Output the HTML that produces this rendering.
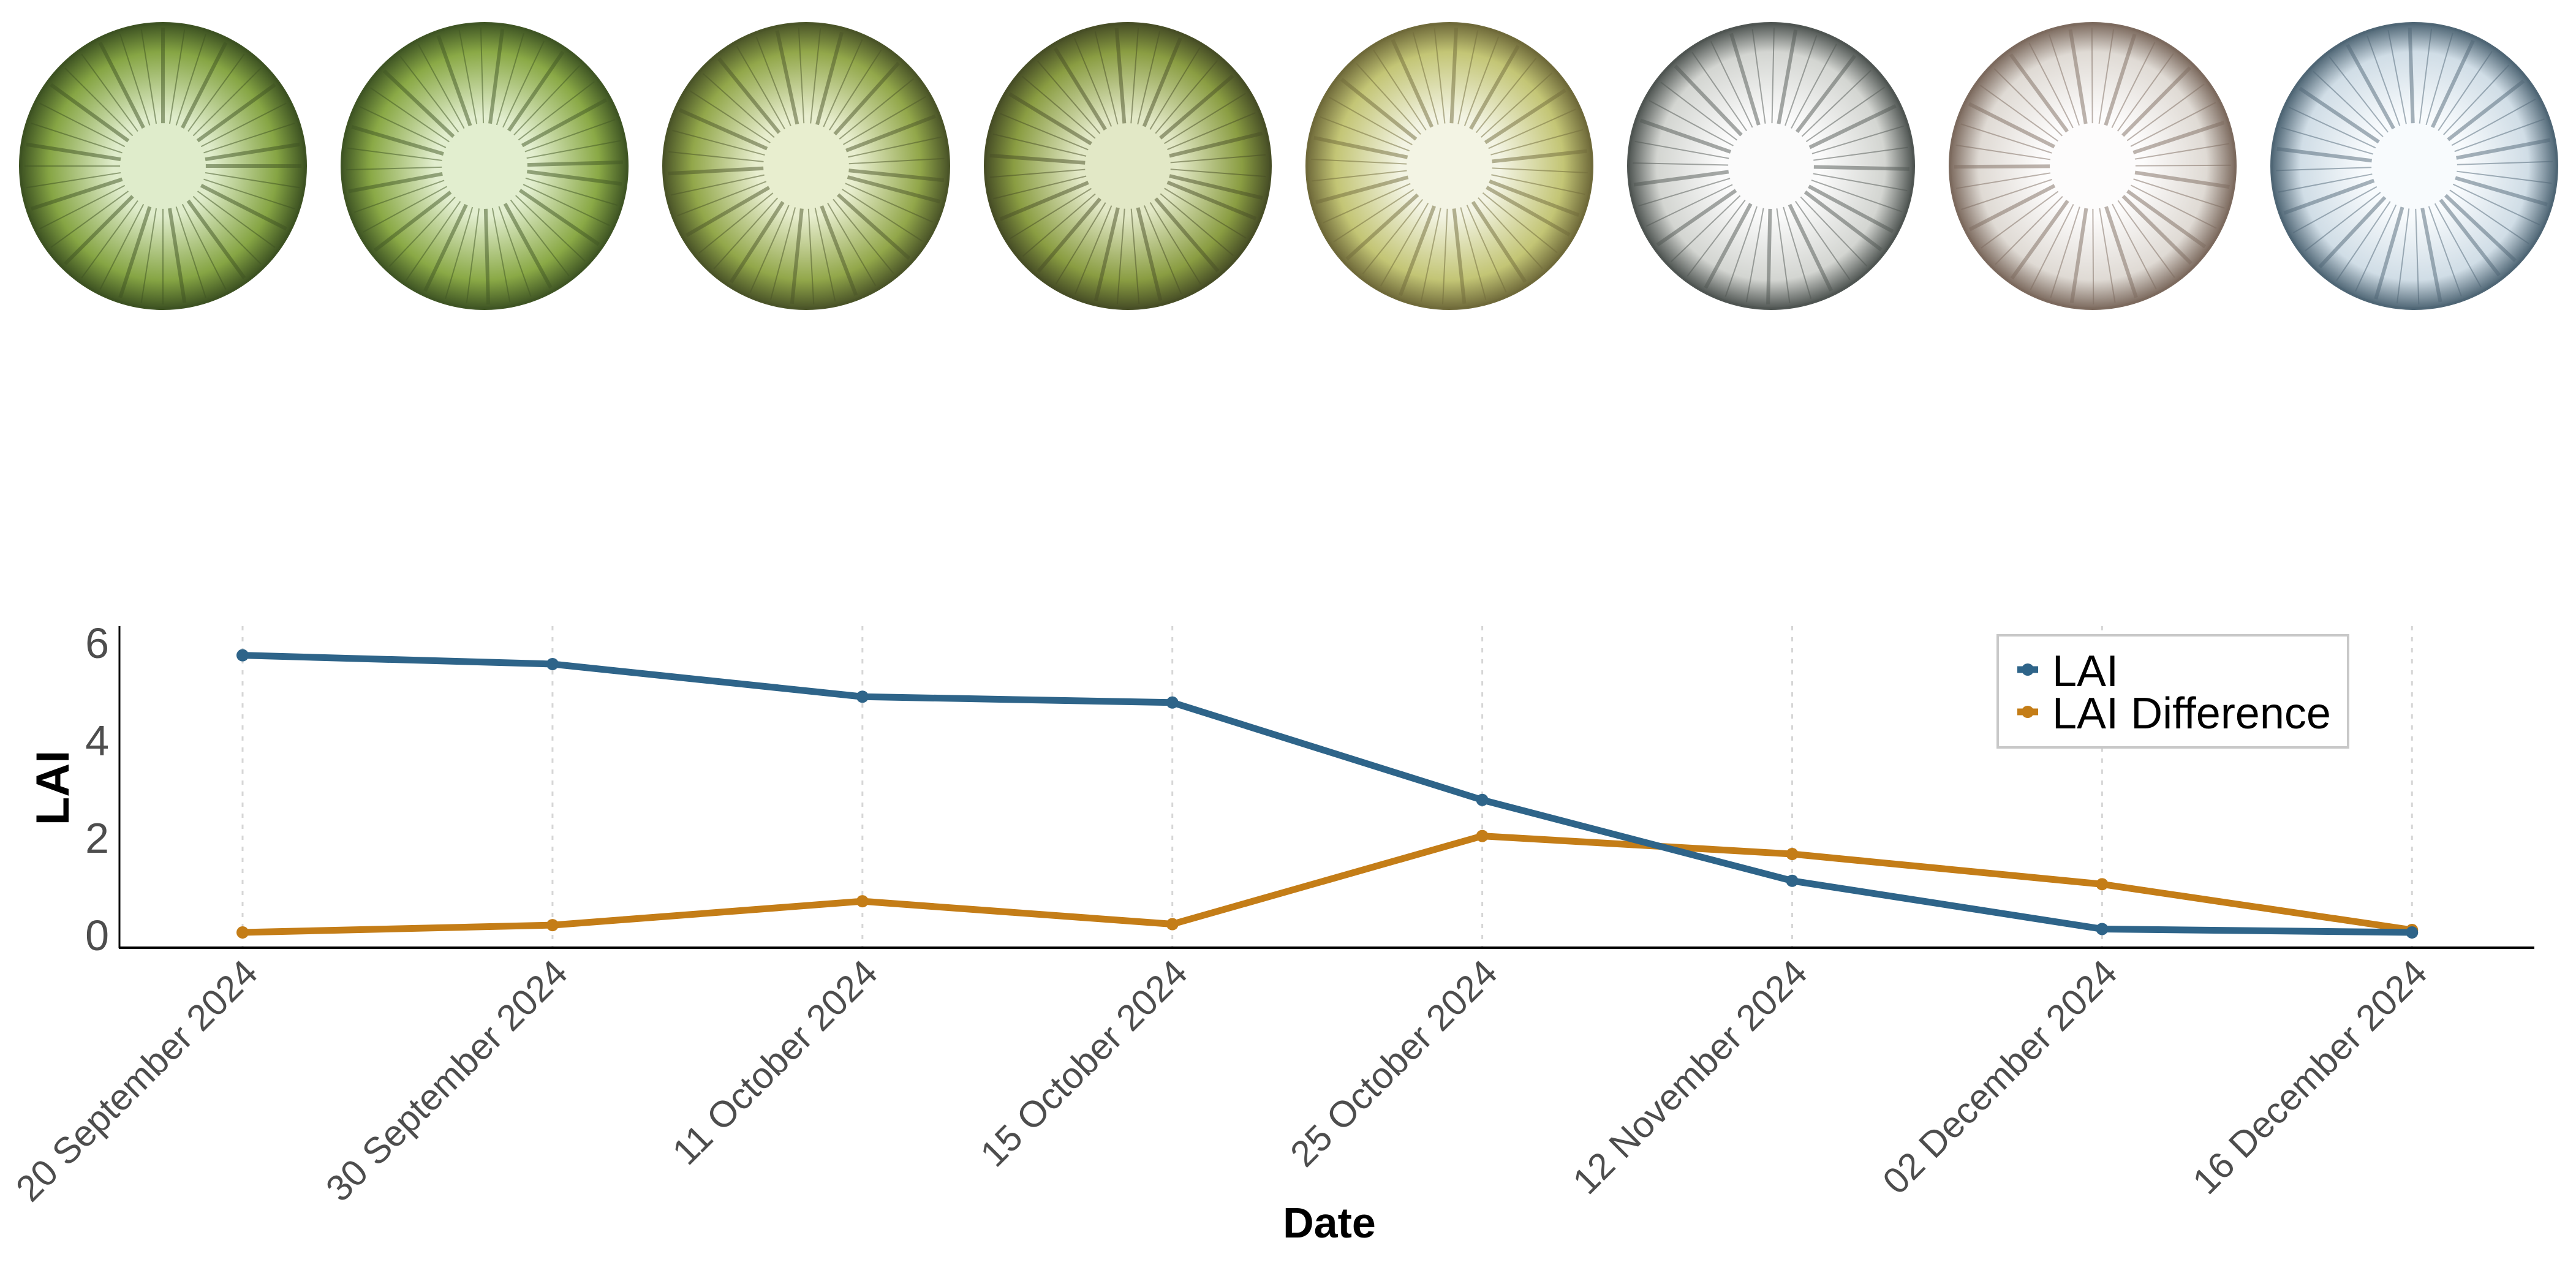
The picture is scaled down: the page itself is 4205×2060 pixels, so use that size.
<!DOCTYPE html>
<html><head><meta charset="utf-8"><style>
html,body{margin:0;padding:0;background:#fff;}
svg{display:block;font-family:"Liberation Sans",Arial,sans-serif;}
</style></head><body>
<svg id="root" width="4205" height="2060" viewBox="0 0 4205 2060" xmlns="http://www.w3.org/2000/svg">
<defs id="defs"></defs>
<g id="photos"></g>
<g id="chart">
  <g id="grid"></g>
  <g id="series"></g>
  <line x1="195" y1="1022" x2="195" y2="1548" stroke="#000" stroke-width="3"/>
  <line x1="194" y1="1547" x2="4137" y2="1547" stroke="#000" stroke-width="4"/>
  <g id="yticks"></g>
  <g id="xticks"></g>
  <text transform="translate(112,1286) rotate(-90)" text-anchor="middle" font-size="76" font-weight="bold" fill="#000">LAI</text>
  <text x="2170" y="2020" text-anchor="middle" font-size="70" font-weight="bold" fill="#000">Date</text>
  <g>
    <rect x="3261" y="1037" width="572" height="183" fill="#fff" stroke="#c8c8c8" stroke-width="4"/>
    <g>
      <line x1="3293" y1="1093" x2="3327" y2="1093" stroke="#2e6489" stroke-width="11"/>
      <circle cx="3310" cy="1093" r="10" fill="#2e6489"/>
      <text x="3350" y="1120" font-size="72" fill="#000">LAI</text>
    </g>
    <g>
      <line x1="3293" y1="1162" x2="3327" y2="1162" stroke="#c47d17" stroke-width="11"/>
      <circle cx="3310" cy="1162" r="10" fill="#c47d17"/>
      <text x="3350" y="1189" font-size="72" fill="#000">LAI Difference</text>
    </g>
  </g>
</g>
</svg>
<script>
const categories = ["20 September 2024","30 September 2024","11 October 2024","15 October 2024","25 October 2024","12 November 2024","02 December 2024","16 December 2024"];
const laiValues = [5.74,5.56,4.89,4.77,2.77,1.11,0.12,0.05];
const laiDiffValues = [0.05,0.2,0.69,0.22,2.03,1.66,1.04,0.1];
const yTicks = [0,2,4,6];
const photoTints = [
  ["#dfeccb","#86a544","#3d5222"],
  ["#e2eecf","#8aa946","#3f5524"],
  ["#e8eecf","#92a74a","#4a5428"],
  ["#e2e8c6","#8a9d42","#474e26"],
  ["#f3f4e4","#c3c575","#6f6a3a"],
  ["#fbfbfb","#d3d5d1","#4f5552"],
  ["#fdfcfc","#dfdad4","#7c6a5e"],
  ["#f8fbfd","#d0dde6","#4f6675"]
];
const NS = "http://www.w3.org/2000/svg";
function mk(tag, attrs, parent){const e=document.createElementNS(NS,tag);for(const k in attrs)e.setAttribute(k,attrs[k]);parent.appendChild(e);return e;}
const X0=396, XSTEP=505.9, Y0=1526, YUNIT=79.5;
function xs(i){return X0+i*XSTEP;}
function ys(v){return Y0-v*YUNIT;}

const defs=document.getElementById('defs'), photos=document.getElementById('photos');
photoTints.forEach((t,i)=>{
  const cx=266+i*525, cy=271, r=233;
  const g=mk('radialGradient',{id:'pg'+i},defs);
  mk('stop',{offset:'0%','stop-color':t[0]},g);
  mk('stop',{offset:'35%','stop-color':t[0]},g);
  mk('stop',{offset:'80%','stop-color':t[1]},g);
  mk('stop',{offset:'100%','stop-color':t[2]},g);
  const grp=mk('g',{},photos);
  
  
  mk('circle',{cx:cx,cy:cy,r:r,fill:'url(#pg'+i+')'},grp);
  for(let k=0;k<40;k++){
    const a=k*Math.PI*2/40+(i*0.13);
    const r1=r*0.3, r2=r*0.97;
    mk('line',{x1:cx+r1*Math.cos(a),y1:cy+r1*Math.sin(a),x2:cx+r2*Math.cos(a),y2:cy+r2*Math.sin(a),stroke:t[2],'stroke-width':(k%3===0?6:2),'stroke-opacity':0.5},grp);
  }
  mk('circle',{cx:cx,cy:cy,r:r,fill:'none',stroke:t[2],'stroke-width':4},grp);
});

const grid=document.getElementById('grid'), xt=document.getElementById('xticks');
categories.forEach((c,i)=>{
  const gl=mk('line',{x1:xs(i),y1:1022,x2:xs(i),y2:1547,stroke:'#d6d6d6','stroke-width':3,'stroke-dasharray':'7 11'},grid);
  
  
  const t=mk('text',{transform:'translate('+(xs(i)+28)+',1592) rotate(-45)','text-anchor':'end','font-size':60,fill:'#4d4d4d'},xt);
  t.textContent=c;
  
  
});
const yt=document.getElementById('yticks');
yTicks.forEach(v=>{
  const t=mk('text',{x:178,y:ys(v)+25,'text-anchor':'end','font-size':70,fill:'#4d4d4d'},yt);
  t.textContent=v;
  
  
});

const series=document.getElementById('series');
function drawSeries(vals,color,name){
  const g=mk('g',{},series);
  
  
  const p=mk('polyline',{points:vals.map((v,i)=>xs(i)+','+ys(v)).join(' '),fill:'none',stroke:color,'stroke-width':11,'stroke-linejoin':'round'},g);
  
  
  vals.forEach((v,i)=>{
    const c=mk('circle',{cx:xs(i),cy:ys(v),r:10,fill:color},g);
    
    
  });
}
drawSeries(laiDiffValues,'#c47d17','lai-difference-series');
drawSeries(laiValues,'#2e6489','lai-series');
</script>
</body></html>
